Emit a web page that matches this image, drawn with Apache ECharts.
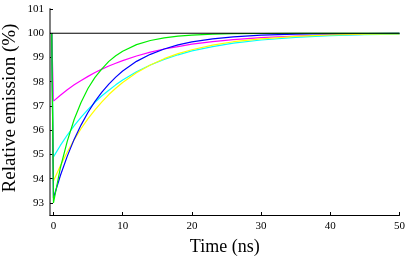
<!DOCTYPE html>
<html>
<head>
<meta charset="utf-8">
<script src="https://cdn.jsdelivr.net/npm/echarts@6/dist/echarts.min.js"></script>
<style>html,body{margin:0;padding:0;background:#fff;}#c{width:415px;height:258px;}</style>
</head>
<body>
<div id="c"></div>
<script>
// Time points (ns)
const time = [-0.25, 0, 1, 2, 3, 4, 5, 6, 7, 8, 9, 10, 12, 14, 16, 18, 20, 23, 26, 30, 35, 40, 45, 50];
// Relative emission (%) per curve
const greenVals   = [100, 93.0, 94.45, 95.55, 96.45, 97.15, 97.73, 98.18, 98.53, 98.84, 99.07, 99.26, 99.53, 99.70, 99.81, 99.88, 99.92, 99.96, 99.98, 99.99, 100, 100, 100, 100];
const blueVals    = [100, 93.2, 94.13, 94.93, 95.63, 96.22, 96.74, 97.19, 97.57, 97.90, 98.19, 98.44, 98.84, 99.13, 99.35, 99.52, 99.64, 99.77, 99.85, 99.92, 99.96, 99.98, 99.99, 100];
const magentaVals = [100, 97.2, 97.44, 97.67, 97.87, 98.05, 98.22, 98.38, 98.52, 98.65, 98.76, 98.87, 99.06, 99.22, 99.35, 99.45, 99.55, 99.65, 99.74, 99.82, 99.88, 99.93, 99.95, 99.97];
const cyanVals    = [100, 94.9, 95.37, 95.80, 96.19, 96.54, 96.86, 97.15, 97.42, 97.65, 97.87, 98.07, 98.41, 98.69, 98.92, 99.11, 99.27, 99.45, 99.59, 99.72, 99.83, 99.90, 99.94, 99.96];
const yellowVals  = [100, 93.9, 94.53, 95.10, 95.61, 96.07, 96.48, 96.84, 97.17, 97.47, 97.73, 97.97, 98.37, 98.69, 98.95, 99.16, 99.32, 99.51, 99.65, 99.77, 99.87, 99.93, 99.96, 99.97];
const refTime = [-0.5, 50];
const refVals = [100, 100];
const xTicks = [0, 10, 20, 30, 40, 50];
const yTicks = [93, 94, 95, 96, 97, 98, 99, 100, 101];

const pairs = (xs, ys) => xs.map((x, i) => [x, ys[i]]);
const font = 'Liberation Serif';
const mk = (name, vals, color, z) => ({
  name, type: 'line', data: pairs(time, vals), showSymbol: false, smooth: false,
  lineStyle: { color, width: 1.2 }, z, animation: false
});

const chart = echarts.init(document.getElementById('c'), null, { renderer: 'canvas' });
chart.setOption({
  animation: false,
  grid: { left: 50, right: 15.5, top: 9, bottom: 43, containLabel: false, outerBoundsMode: 'none' },
  xAxis: {
    type: 'value', min: -0.5, max: 50,
    name: 'Time (ns)', nameLocation: 'middle', nameGap: 23, nameMoveOverlap: false,
    nameTextStyle: { fontFamily: font, fontSize: 18, color: '#000' },
    axisLine: { show: true, onZero: false, lineStyle: { color: '#000', width: 1 } },
    axisTick: { show: true, inside: true, length: 3, customValues: xTicks, lineStyle: { color: '#000' } },
    axisLabel: { customValues: xTicks, fontFamily: font, fontSize: 11, color: '#000', margin: 6 },
    splitLine: { show: false }
  },
  yAxis: {
    type: 'value', min: 92.5, max: 101,
    name: 'Relative emission (%)', nameLocation: 'middle', nameGap: 30, nameMoveOverlap: false,
    nameTextStyle: { fontFamily: font, fontSize: 19, color: '#000', padding: [0, 0, 0, 8] },
    axisLine: { show: true, onZero: false, lineStyle: { color: '#808080', width: 2 } },
    axisTick: { show: true, inside: true, length: 3, customValues: yTicks, lineStyle: { color: '#000' } },
    axisLabel: { customValues: yTicks, fontFamily: font, fontSize: 11, color: '#000', margin: 6 },
    splitLine: { show: false }
  },
  series: [
    mk('magenta', magentaVals, '#ff00ff', 2),
    mk('cyan', cyanVals, '#00ffff', 3),
    mk('yellow', yellowVals, '#ffff00', 4),
    mk('blue', blueVals, '#0000ff', 5),
    mk('green', greenVals, '#00ee00', 6),
    { name: 'ref', type: 'line', data: pairs(refTime, refVals), showSymbol: false,
      lineStyle: { color: '#000', width: 1 }, z: 7, animation: false }
  ]
});
</script>
</body>
</html>
